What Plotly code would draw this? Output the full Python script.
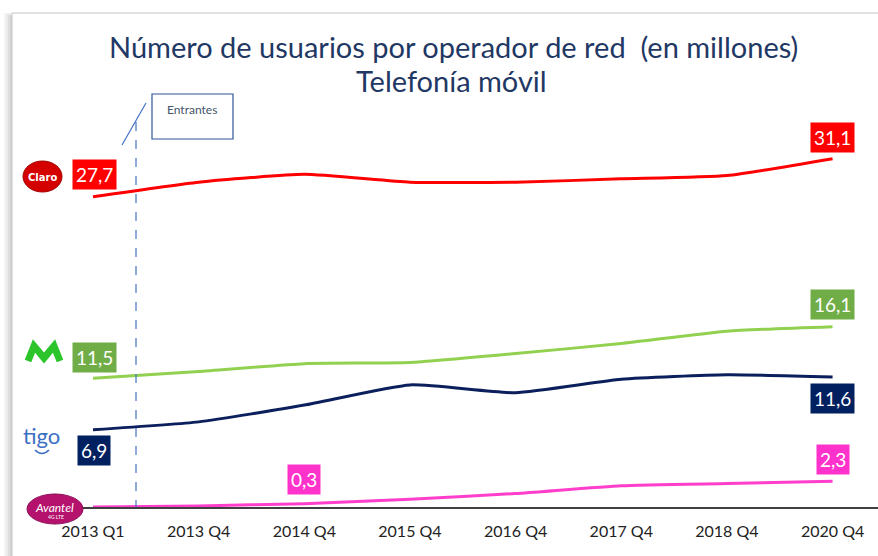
import plotly.graph_objects as go

categories = ["2013 Q1", "2013 Q4", "2014 Q4", "2015 Q4", "2016 Q4", "2017 Q4", "2018 Q4", "2020 Q4"]
claro = [27.7, 29.0, 29.7, 29.0, 29.0, 29.3, 29.6, 31.1]
movistar = [11.5, 12.1, 12.8, 12.9, 13.7, 14.6, 15.7, 16.1]
tigo = [6.9, 7.6, 9.1, 10.9, 10.2, 11.4, 11.8, 11.6]
avantel = [0.0, 0.1, 0.3, 0.7, 1.2, 1.9, 2.1, 2.3]

W, H = 878, 556
FONT = "Lato"


def px(x):
    return x / W


def py(y):
    return 1 - y / H


xs = list(range(len(categories)))
fig = go.Figure()

series = [
    ("Claro", claro, "#FF0000"),
    ("Movistar", movistar, "#92D050"),
    ("Tigo", tigo, "#0B1F5C"),
    ("Avantel", avantel, "#FF3FCC"),
]
for name, vals, lc in series:
    fig.add_trace(go.Scatter(x=xs, y=vals, mode="lines", name=name,
                             line=dict(color=lc, width=3, shape="spline", smoothing=0.5),
                             hoverinfo="skip", showlegend=False))


def fmt(v):
    return f"{v:.1f}".replace(".", ",")


annots = []
label_specs = [
    (claro, "#FF0000", 0, 22), (claro, "#FF0000", 7, 21),
    (movistar, "#70AD47", 0, 21), (movistar, "#70AD47", 7, 22),
    (tigo, "#002060", 0, -21), (tigo, "#002060", 7, -21),
    (avantel, "#FF33CC", 2, 24), (avantel, "#FF33CC", 7, 22),
]
for vals, bg, i, ys in label_specs:
    annots.append(dict(x=i, y=vals[i], xref="x", yref="y", text=fmt(vals[i]),
                       showarrow=False, yshift=ys, xshift=1 if i == 0 else 0,
                       xanchor="center", yanchor="middle",
                       bgcolor=bg, borderpad=3,
                       font=dict(family=FONT, size=19, color="white")))


def ptext(x, y, text, size, color, family=FONT):
    annots.append(dict(x=px(x), y=py(y), xref="paper", yref="paper", text=text,
                       showarrow=False, xanchor="center", yanchor="middle",
                       font=dict(family=family, size=size, color=color)))


ptext(453, 46, "Número de usuarios por operador de red  (en millones)", 29, "#1F3864")
ptext(451, 81, "Telefonía móvil", 29, "#1F3864")
ptext(192, 109, "Entrantes", 12, "#44546A")
ptext(42, 177, "<b>Claro</b>", 10, "white", "DejaVu Sans")
ptext(41, 435, "tigo", 22, "#3A6FC4")
ptext(54, 507, "<i>Avantel</i>", 12, "white")
ptext(56, 517, "4G LTE", 5, "white")

shapes = []
for i, c in enumerate(["#F4F4F4", "#EAEAEA", "#DEDEDE", "#D2D2D2"]):
    shapes.append(dict(type="rect", xref="paper", yref="paper",
                       x0=px(4 + i * 2), x1=px(12), y0=py(H), y1=py(13 + i),
                       fillcolor=c, line=dict(width=0), layer="below"))
shapes.append(dict(type="line", xref="paper", yref="paper", x0=px(12), x1=px(W),
                   y0=py(13), y1=py(13), line=dict(color="#D9D9D9", width=1.5)))
shapes.append(dict(type="line", xref="paper", yref="paper", x0=px(12), x1=px(12),
                   y0=py(13), y1=py(H), line=dict(color="#C8C8C8", width=1)))
shapes.append(dict(type="line", xref="paper", yref="paper", x0=px(136), x1=px(136),
                   y0=py(122), y1=py(507), line=dict(color="#4472C4", width=1.2, dash="dash")))
shapes.append(dict(type="line", xref="paper", yref="paper", x0=px(122), x1=px(146),
                   y0=py(145), y1=py(103), line=dict(color="#4472C4", width=1.2)))
shapes.append(dict(type="rect", xref="paper", yref="paper", x0=px(152), x1=px(233),
                   y0=py(139), y1=py(94), line=dict(color="#2F5597", width=1.2)))
shapes.append(dict(type="circle", xref="paper", yref="paper", x0=px(23), x1=px(62),
                   y0=py(192), y1=py(161), fillcolor="#D40000", line=dict(color="#A00000", width=1)))
shapes.append(dict(type="path", xref="paper", yref="paper",
                   path=f"M {px(28)},{py(361)} L {px(34)},{py(346)} L {px(44)},{py(358)} "
                        f"L {px(54)},{py(346)} L {px(60)},{py(361)}",
                   line=dict(color="#2BC42B", width=7)))
shapes.append(dict(type="path", xref="paper", yref="paper",
                   path=f"M {px(35)},{py(450)} Q {px(42)},{py(457)} {px(49)},{py(450)}",
                   line=dict(color="#3A6FC4", width=1.5)))
shapes.append(dict(type="circle", xref="paper", yref="paper", x0=px(27), x1=px(83),
                   y0=py(524), y1=py(494), fillcolor="#B5126E", line=dict(color="#8A0D55", width=1)))

fig.update_layout(
    width=W, height=H,
    margin=dict(l=0, r=0, t=0, b=0),
    paper_bgcolor="white", plot_bgcolor="white",
    showlegend=False,
    annotations=annots, shapes=shapes,
    xaxis=dict(domain=[px(50), 1.0], range=[-0.407, 7.43],
               tickmode="array", tickvals=xs, ticktext=categories,
               showline=True, linecolor="#404040", linewidth=1.5,
               showgrid=False, zeroline=False,
               ticks="outside", ticklen=9, tickcolor="rgba(0,0,0,0)",
               automargin=False,
               tickfont=dict(family=FONT, size=16, color="#222222")),
    yaxis=dict(domain=[py(507), py(100)], range=[0, (507 - 100) / 11.2],
               visible=False, showgrid=False, zeroline=False, automargin=False),
)

fig.write_html("out.html", config={"displayModeBar": False},
               post_script="document.body.style.margin='0';document.body.style.overflow='hidden';")
